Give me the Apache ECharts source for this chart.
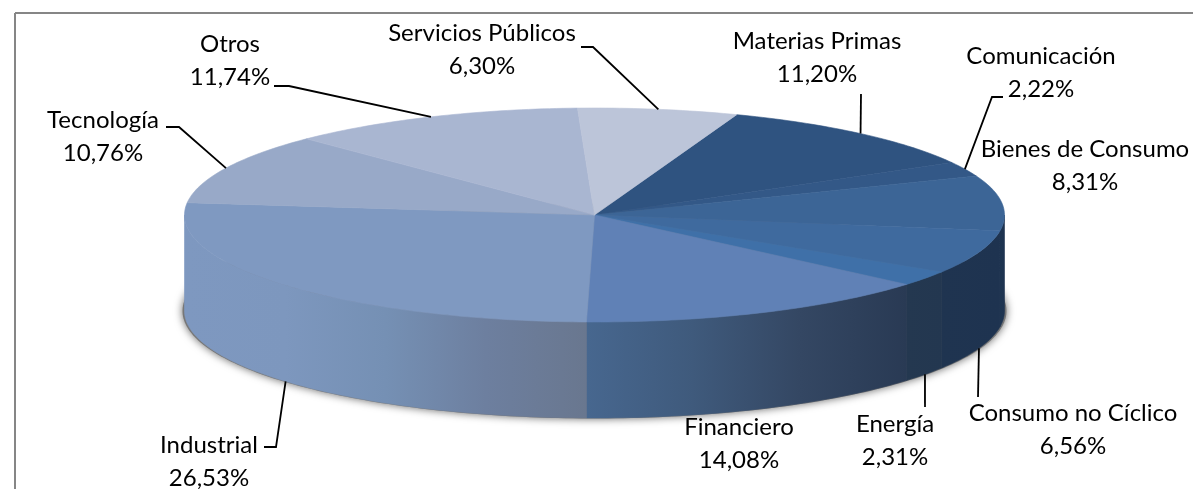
<!DOCTYPE html>
<html>
<head>
<meta charset="utf-8">
<title>Sectores</title>
<style>
  html, body { margin: 0; padding: 0; background: #fff; }
  #chart { width: 1193px; height: 489px; }
</style>
<script src="https://cdn.jsdelivr.net/npm/echarts@6/dist/echarts.min.js"></script>
</head>
<body>
<div id="chart"></div>
<script>
// datos, en orden de las agujas del reloj desde Materias Primas
const sectors = ['Materias Primas', 'Comunicación', 'Bienes de Consumo', 'Consumo no Cíclico', 'Energía',
    'Financiero', 'Industrial', 'Tecnología', 'Otros', 'Servicios Públicos'];
const weights = [11.20, 2.22, 8.31, 6.56, 2.31, 14.08, 26.53, 10.76, 11.74, 6.30];

// estilo de cada porción
const topColors = ['#2f5380', '#335887', '#3c6596', '#3f6a9e', '#3f70a8', '#6081b6', '#7f99c1', '#98a9c8', '#a9b6d1', '#bcc5d9'];
// pared lateral, de izquierda a derecha
const sideColors = [
    ['#1d3350'], ['#1d3350'], ['#1d3451', '#1e3350'], ['#1f3450', '#1e3350'], ['#243850', '#233750'],
    ['#47678f', '#3f5a7c', '#344763', '#293a54'], ['#7e98c0', '#7d97be', '#7590b4', '#6d7f9f', '#69778f'],
    ['#98a9c8'], ['#a9b6d1'], ['#bcc5d9']
];

// posición de las etiquetas: centro del texto y codo de la guía
const labelPos = [[817, 58], [1041, 73], [1085, 166], [1073, 430], [895, 441], [739, 444], [209, 462], [103, 137], [230, 61], [482, 50]];
const leaderKnees = [
    [[861, 94]],
    [[992, 97], [1003, 97]],
    null,
    [[978, 397]],
    [[925, 407]],
    null,
    [[276, 447], [264, 447]],
    [[179, 127], [166, 127]],
    [[289, 86], [274, 86]],
    [[593, 47], [581, 47]]
];

const cx = 594.5, cy = 215, rx = 410, ry = 107, depth = 96, startAngle = 20.3;
const total = weights.reduce((a, b) => a + b, 0);

let angles = [], acc = startAngle;
weights.forEach((v) => {
    let end = acc + v / total * 360;
    angles.push([acc, end]);
    acc = end;
});

function pt(a, dy, grow) {
    let r = a * Math.PI / 180, g = grow || 0;
    return [cx + (rx + g) * Math.sin(r), cy - (ry + g / 4) * Math.cos(r) + (dy || 0)];
}
function arc(a0, a1, dy, grow) {
    let pts = [], n = Math.max(2, Math.ceil(Math.abs(a1 - a0)));
    for (let i = 0; i <= n; i++) pts.push(pt(a0 + (a1 - a0) * i / n, dy, grow));
    return pts;
}
function hGradient(x0, x1, colors) {
    let stops = colors.map((c, i) => ({offset: colors.length > 1 ? i / (colors.length - 1) : 0, color: c}));
    if (colors.length == 1) stops.push({offset: 1, color: colors[0]});
    return new echarts.graphic.LinearGradient(x0, 0, x1, 0, stops, true);
}

const chart = echarts.init(document.getElementById('chart'));
const rows = sectors.map((n, i) => i);

chart.setOption({
    animation: false,
    backgroundColor: '#fff',
    graphic: [
        {type: 'line', shape: {x1: 15, y1: 13, x2: 1193, y2: 13}, style: {stroke: '#868686', lineWidth: 2}},
        {type: 'line', shape: {x1: 15, y1: 13, x2: 15, y2: 489}, style: {stroke: '#868686', lineWidth: 2}}
    ],
    series: [
        // sombra de la base
        {
            type: 'custom', coordinateSystem: 'none', silent: true, z: 1, data: [0],
            renderItem: () => ({
                type: 'polygon',
                shape: {points: arc(0, 360, depth, 2)},
                style: {fill: '#777', shadowBlur: 9, shadowColor: 'rgba(0,0,0,0.6)'}
            })
        },
        // pared lateral
        {
            type: 'custom', coordinateSystem: 'none', silent: true, z: 2, data: rows,
            renderItem: (params, api) => {
                let i = api.value(0);
                let a0 = Math.max(angles[i][0], 90), a1 = Math.min(angles[i][1], 270);
                if (a1 <= a0) return null;
                let points = arc(a0, a1, 0).concat(arc(a1, a0, depth));
                let fill = hGradient(pt(a1)[0], pt(a0)[0], sideColors[i]);
                return {type: 'polygon', shape: {points: points}, style: {fill: fill, stroke: fill, lineWidth: 0.6}};
            }
        },
        // cara superior
        {
            type: 'custom', coordinateSystem: 'none', silent: true, z: 3, data: rows,
            renderItem: (params, api) => {
                let i = api.value(0);
                let points = [[cx, cy]].concat(arc(angles[i][0], angles[i][1], 0));
                return {type: 'polygon', shape: {points: points}, style: {fill: topColors[i], stroke: topColors[i], lineWidth: 0.6}};
            }
        },
        // guías
        {
            type: 'custom', coordinateSystem: 'none', silent: true, z: 4, data: rows,
            renderItem: (params, api) => {
                let i = api.value(0);
                if (!leaderKnees[i]) return null;
                let mid = (angles[i][0] + angles[i][1]) / 2;
                let front = mid > 90 && mid < 270;
                let points = [pt(mid, front ? depth : 0)].concat(leaderKnees[i]);
                return {type: 'polyline', shape: {points: points}, style: {stroke: '#000', lineWidth: 1.8, fill: null}};
            }
        },
        // etiquetas
        {
            type: 'custom', coordinateSystem: 'none', silent: true, z: 5, data: rows,
            renderItem: (params, api) => {
                let i = api.value(0);
                return {
                    type: 'text',
                    style: {
                        text: sectors[i] + '\n' + weights[i].toFixed(2).replace('.', ',') + '%',
                        x: labelPos[i][0], y: labelPos[i][1],
                        align: 'center', verticalAlign: 'middle',
                        font: '24px Lato', lineHeight: 33, fill: '#000'
                    }
                };
            }
        }
    ]
});
</script>
</body>
</html>
